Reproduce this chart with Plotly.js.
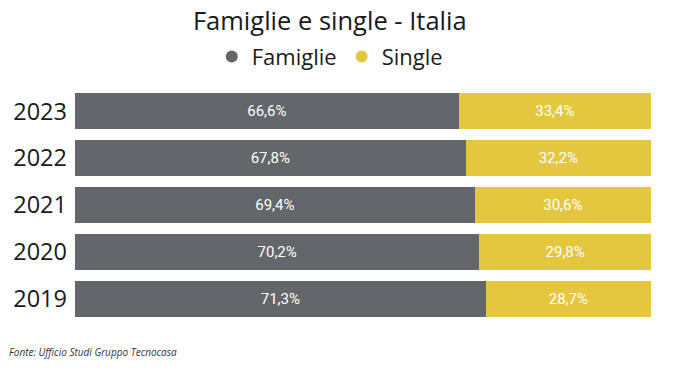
<!DOCTYPE html>
<html>
<head>
<meta charset="utf-8">
<script src="https://cdn.plot.ly/plotly-3.0.1.min.js"></script>
<style>html,body{margin:0;padding:0;background:#fff;}#chart{width:673px;height:378px;}</style>
</head>
<body>
<div id="chart"></div>
<script>
const years = ["2019", "2020", "2021", "2022", "2023"];
const famiglie = [71.3, 70.2, 69.4, 67.8, 66.6];
const single = [28.7, 29.8, 30.6, 32.2, 33.4];
const seriesNames = ["Famiglie", "Single"];
const colors = ["#63666a", "#e5c73f"];

const fmt = v => v.toFixed(1).replace('.', ',') + '%';

const traces = [
  {
    type: 'bar', orientation: 'h', name: seriesNames[0], y: years, x: famiglie,
    marker: {color: colors[0]}, text: famiglie.map(fmt), textposition: 'inside',
    insidetextanchor: 'middle', textangle: 0,
    textfont: {family: 'Roboto, sans-serif', size: 15, color: '#ffffff'},
    showlegend: false, hoverinfo: 'skip'
  },
  {
    type: 'bar', orientation: 'h', name: seriesNames[1], y: years, x: single,
    marker: {color: colors[1]}, text: single.map(fmt), textposition: 'inside',
    insidetextanchor: 'middle', textangle: 0,
    textfont: {family: 'Roboto, sans-serif', size: 15, color: '#ffffff'},
    showlegend: false, hoverinfo: 'skip'
  },
  {type: 'scatter', mode: 'markers', name: seriesNames[0], x: [null], y: [null],
   marker: {color: colors[0], size: 12, symbol: 'circle'}, showlegend: true},
  {type: 'scatter', mode: 'markers', name: seriesNames[1], x: [null], y: [null],
   marker: {color: colors[1], size: 12, symbol: 'circle'}, showlegend: true}
];

const layout = {
  width: 673, height: 378,
  margin: {l: 75, r: 22, t: 88, b: 56},
  paper_bgcolor: '#ffffff', plot_bgcolor: '#ffffff',
  barmode: 'stack', bargap: 0.234,
  font: {family: '"Open Sans", "Noto Sans", sans-serif', color: '#1a1a1a'},
  title: {text: 'Famiglie e single - Italia', x: 0.49, xanchor: 'center', y: 0.945, yanchor: 'middle',
          font: {size: 25.5, color: '#1a1a1a'}},
  showlegend: true,
  legend: {orientation: 'h', traceorder: 'normal', xref: 'container', yref: 'container', x: 0.49, xanchor: 'center',
           y: 0.85, yanchor: 'middle', font: {size: 22, color: '#1a1a1a'},
           itemwidth: 30, tracegroupgap: 0, bgcolor: 'rgba(0,0,0,0)'},
  xaxis: {range: [0, 100], visible: false, fixedrange: true},
  yaxis: {type: 'category', categoryorder: 'array', categoryarray: years,
          showgrid: false, zeroline: false, showline: false, ticks: '',
          ticklabelstandoff: 7, tickfont: {size: 23.5, color: '#1a1a1a'}},
  annotations: [{
    text: '<i>Fonte: Ufficio Studi Gruppo Tecnocasa</i>', xref: 'paper', yref: 'paper',
    x: -0.118, y: -0.128, xanchor: 'left', yanchor: 'middle', showarrow: false,
    font: {size: 10, color: '#333333', family: '"Open Sans", sans-serif'}
  }]
};

Plotly.newPlot('chart', traces, layout, {displayModeBar: false, staticPlot: true});
</script>
</body>
</html>
